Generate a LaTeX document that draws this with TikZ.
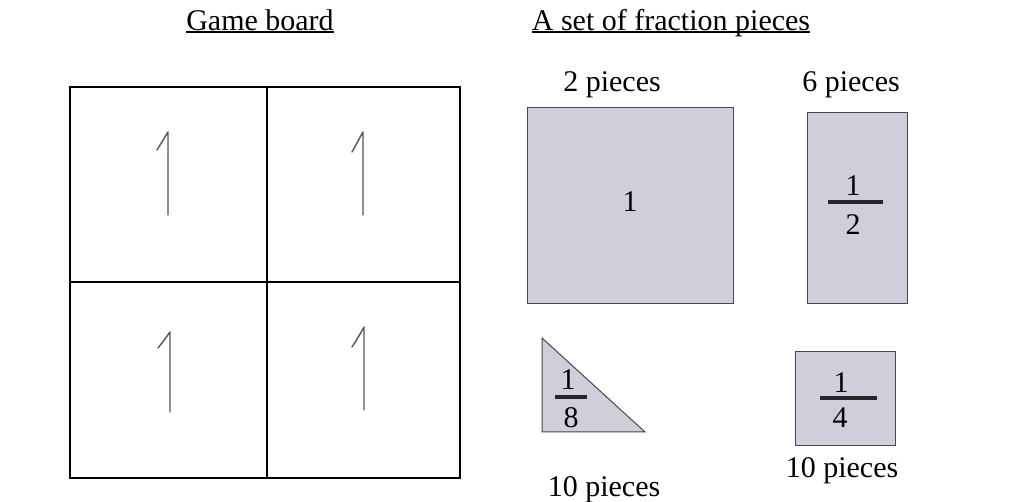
\documentclass[tikz,border=0pt]{standalone}
\usepackage{fontspec}
\setmainfont{Liberation Serif}
\definecolor{piece}{RGB}{208,206,218}
\definecolor{pieceedge}{RGB}{70,70,80}
\definecolor{handgray}{RGB}{85,85,85}
\begin{document}
\begin{tikzpicture}[x=1pt,y=-1pt,
  txt/.style={inner sep=0pt,anchor=base,font=\fontsize{30}{36}\selectfont},
  board/.style={line width=1.8pt,black},
  piecebox/.style={fill=piece,draw=pieceedge,line width=1pt},
  bar/.style={line width=3.4pt,black!85},
  hand/.style={handgray,line width=1.4pt,line cap=round,line join=round}]
\useasboundingbox[fill=white] (0,0) rectangle (1029,502);

% titles
\node[txt] (tboard) at (260,31) {Game board};
\draw[line width=2pt] ([yshift=-1.5pt]tboard.base west) -- ([yshift=-1.5pt]tboard.base east);
\node[txt] (tset) at (671,31) {A set of fraction pieces};
\draw[line width=2pt] ([yshift=-1.5pt]tset.base west) -- ([yshift=-1.5pt]tset.base east);

% game board
\draw[board] (70,87) rectangle (460,478);
\draw[board] (267,87) -- (267,478);
\draw[board] (70,282) -- (460,282);
\draw[hand] (157,150) .. controls (163,141) .. (168,132) -- (168,215);
\draw[hand] (352,152) .. controls (358,142) .. (363,132) -- (363,215);
\draw[hand] (158,348) .. controls (165,339) .. (170,332) -- (170,412);
\draw[hand] (352,347) .. controls (359,336) .. (364,327) -- (364,410);

% piece labels
\node[txt] (l2) at (612,92) {2 pieces};
\node[txt] (l6) at (851,92) {6 pieces};
\node[txt] (l10a) at (604,497) {10 pieces};
\node[txt] (l10b) at (842,478) {10 pieces};

% whole piece
\draw[piecebox] (527,108) rectangle (733,304);
\node[txt] (one) at (630,212) {1};

% half piece
\draw[piecebox] (807,113) rectangle (907,304);
\node[txt] (hn) at (853,196) {1};
\draw[bar] (828,202) -- (883,202);
\node[txt] (hd) at (853,235) {2};

% eighth piece (triangle)
\draw[piecebox] (542,338) -- (645,432) -- (542,432) -- cycle;
\node[txt] (en) at (568,390) {1};
\draw[bar] (555,397) -- (587,397);
\node[txt] (ed) at (571,428) {8};

% quarter piece
\draw[piecebox] (795,352) rectangle (895,446);
\node[txt] (qn) at (841,393) {1};
\draw[bar] (820,398) -- (877,398);
\node[txt] (qd) at (840,428) {4};
\end{tikzpicture}
\end{document}
